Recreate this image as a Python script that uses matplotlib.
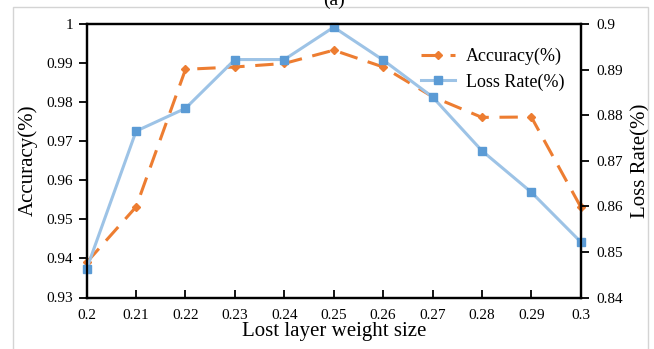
import matplotlib.pyplot as plt
from matplotlib.patches import Rectangle

# data
weight_size = [0.2, 0.21, 0.22, 0.23, 0.24, 0.25, 0.26, 0.27, 0.28, 0.29, 0.3]
accuracy = [0.939, 0.9532, 0.9884, 0.989, 0.9899, 0.9933, 0.989, 0.9814, 0.9761, 0.9762, 0.9532]
loss_rate = [0.8463, 0.8765, 0.8815, 0.8922, 0.8922, 0.8993, 0.8921, 0.884, 0.8722, 0.8631, 0.8522]
x_ticks = [0.2, 0.21, 0.22, 0.23, 0.24, 0.25, 0.26, 0.27, 0.28, 0.29, 0.3]
x_labels = ['0.2', '0.21', '0.22', '0.23', '0.24', '0.25', '0.26', '0.27', '0.28', '0.29', '0.3']
acc_ticks = [0.93, 0.94, 0.95, 0.96, 0.97, 0.98, 0.99, 1.0]
acc_labels = ['0.93', '0.94', '0.95', '0.96', '0.97', '0.98', '0.99', '1']
loss_ticks = [0.84, 0.85, 0.86, 0.87, 0.88, 0.89, 0.9]
loss_labels = ['0.84', '0.85', '0.86', '0.87', '0.88', '0.89', '0.9']

plt.rcParams['font.family'] = ['Liberation Serif', 'DejaVu Serif']

W, H = 654, 349
fig = plt.figure(figsize=(W / 100, H / 100), dpi=100)
ax = fig.add_axes([86.7 / W, 1 - 297.5 / H, 494 / W, 273.5 / H])
ax2 = ax.twinx()

orange = '#ED7D31'
blue_line = '#9DC3E6'
blue_mark = '#5B9BD5'

l1, = ax.plot(weight_size, accuracy, color=orange, lw=2.2, dashes=(6, 3.5),
              marker='D', ms=4, mfc=orange, mec=orange, label='Accuracy(%)', clip_on=False)
l2, = ax2.plot(weight_size, loss_rate, color=blue_line, lw=2.2,
               marker='s', ms=5.5, mfc=blue_mark, mec=blue_mark, label='Loss Rate(%)', clip_on=False)

ax.set_xlim(0.2, 0.3)
ax.set_ylim(0.93, 1.0)
ax2.set_ylim(0.84, 0.9)
ax.set_xticks(x_ticks)
ax.set_xticklabels(x_labels)
ax.set_yticks(acc_ticks)
ax.set_yticklabels(acc_labels)
ax2.set_yticks(loss_ticks)
ax2.set_yticklabels(loss_labels)

ax.tick_params(axis='x', direction='in', length=6, width=1.3, labelsize=11, pad=8)
ax.tick_params(axis='y', direction='out', length=6, width=1.3, labelsize=11, pad=4)
ax2.tick_params(axis='y', direction='out', length=6, width=1.3, labelsize=11, pad=5)

for a in (ax, ax2):
    for s in a.spines.values():
        s.set_linewidth(1.6)
        s.set_color('black')

ax.set_xlabel('Lost layer weight size', fontsize=15, labelpad=0)
ax.set_ylabel('Accuracy(%)', fontsize=15, labelpad=6)
ax2.set_ylabel('Loss Rate(%)', fontsize=15, labelpad=6)

leg = ax.legend([l1, l2], ['Accuracy(%)', 'Loss Rate(%)'], loc='upper left',
                bbox_to_anchor=(412 / W, 1 - 39 / H), bbox_transform=fig.transFigure,
                frameon=False, fontsize=13, handlelength=1.9, handletextpad=0.6,
                labelspacing=0.45, borderpad=0)

# light border around the figure and the clipped panel label
fig.patches.append(Rectangle((13 / W, -5 / H), 635 / W, (H - 7 + 5) / H,
                             transform=fig.transFigure, fill=False,
                             edgecolor='#d4d4d4', lw=1))
fig.text(334 / W, 1.0, '(a)', ha='center', va='center', fontsize=14)

fig.savefig('out.png', dpi=100)
